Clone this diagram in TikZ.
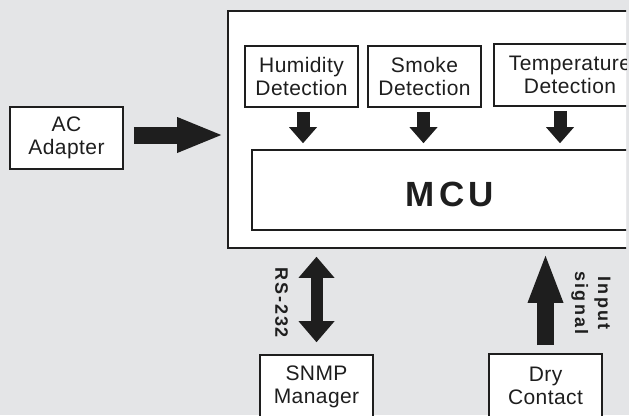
\documentclass[tikz,border=0pt]{standalone}
\usepackage{fontspec}
\setmainfont{Liberation Sans}
\usetikzlibrary{arrows.meta}
\definecolor{bggray}{HTML}{E4E5E7}
\definecolor{ink}{HTML}{1E1E1E}

\begin{document}
\begin{tikzpicture}[x=1pt,y=-1pt,
    blk/.style={draw=ink,line width=1.6pt,fill=white,inner sep=0pt,
      minimum width=113pt,minimum height=62pt,align=center,text=ink,
      font=\fontsize{21}{23}\selectfont\addfontfeature{LetterSpace=2}},
    fat/.style={draw=ink,line width=#1},
    lbl/.style={rotate=-90,align=center,text=ink,
      font=\bfseries\fontsize{18}{23}\selectfont\addfontfeature{LetterSpace=#1}}]
  \useasboundingbox (0,0) rectangle (629,415);
  \fill[bggray] (0,0) rectangle (629,415);
  \begin{scope}
    \clip (0,0) rectangle (626,415);
    \node[blk,minimum width=440pt,minimum height=237pt] (main) at (448,129.5) {};
    \node[blk,minimum width=392pt,minimum height=80pt] (mcu) at (448,190) {};
    \node[text=ink,font=\bfseries\fontsize{35}{40}\selectfont\addfontfeature{LetterSpace=12}] (mcutxt) at (450,194.5) {MCU};

    \node[blk,minimum height=61pt] (hum) at (301.5,76.5) {Humidity\\Detection};
    \node[blk,minimum height=61pt] (smoke) at (424.5,76.5) {Smoke\\Detection};
    \node[blk,minimum width=152pt] (temp) at (570,75) {Temperature\\Detection};

    \node[blk] (ac) at (66.5,138) {AC\\Adapter};
    \node[blk,minimum height=64pt] (snmp) at (316.5,387) {SNMP\\Manager};
    \node[blk,minimum height=64pt] (dry) at (545.5,386) {Dry\\Contact};

    \draw[fat=13pt,-{Triangle[line width=0pt,length=16pt,width=28pt]},shorten <=4pt,shorten >=6pt]
      ([xshift=1.5pt]hum.south) -- ([xshift=1.5pt]hum.south |- mcu.north);
    \draw[fat=13pt,-{Triangle[line width=0pt,length=16pt,width=28pt]},shorten <=4pt,shorten >=6pt]
      ([xshift=-1pt]smoke.south) -- ([xshift=-1pt]smoke.south |- mcu.north);
    \draw[fat=13pt,-{Triangle[line width=0pt,length=16pt,width=28pt]},shorten <=4pt,shorten >=6pt]
      ([xshift=-10pt]temp.south) -- ([xshift=-10pt]temp.south |- mcu.north);

    \draw[fat=17pt,-{Triangle[line width=0pt,length=44pt,width=36pt]},shorten <=10pt,shorten >=6pt]
      ([yshift=3pt]ac.east) -- ([yshift=3pt]ac.east -| main.west);

    \draw[fat=12pt,{Triangle[line width=0pt,length=21pt,width=36pt]}-{Triangle[line width=0pt,length=21pt,width=36pt]},shorten <=12pt,shorten >=8pt]
      (snmp.north) -- (snmp.north |- main.south);
    \draw[fat=17pt,-{Triangle[line width=0pt,length=47pt,width=36pt]},shorten <=8pt,shorten >=7pt]
      (dry.north) -- (dry.north |- main.south);

    \node[lbl=10] (rs) at (281.5,303) {RS-232};
    \node[lbl=13] (sig) at (591,303) {Input\\signal};
  \end{scope}
\end{tikzpicture}
\end{document}
